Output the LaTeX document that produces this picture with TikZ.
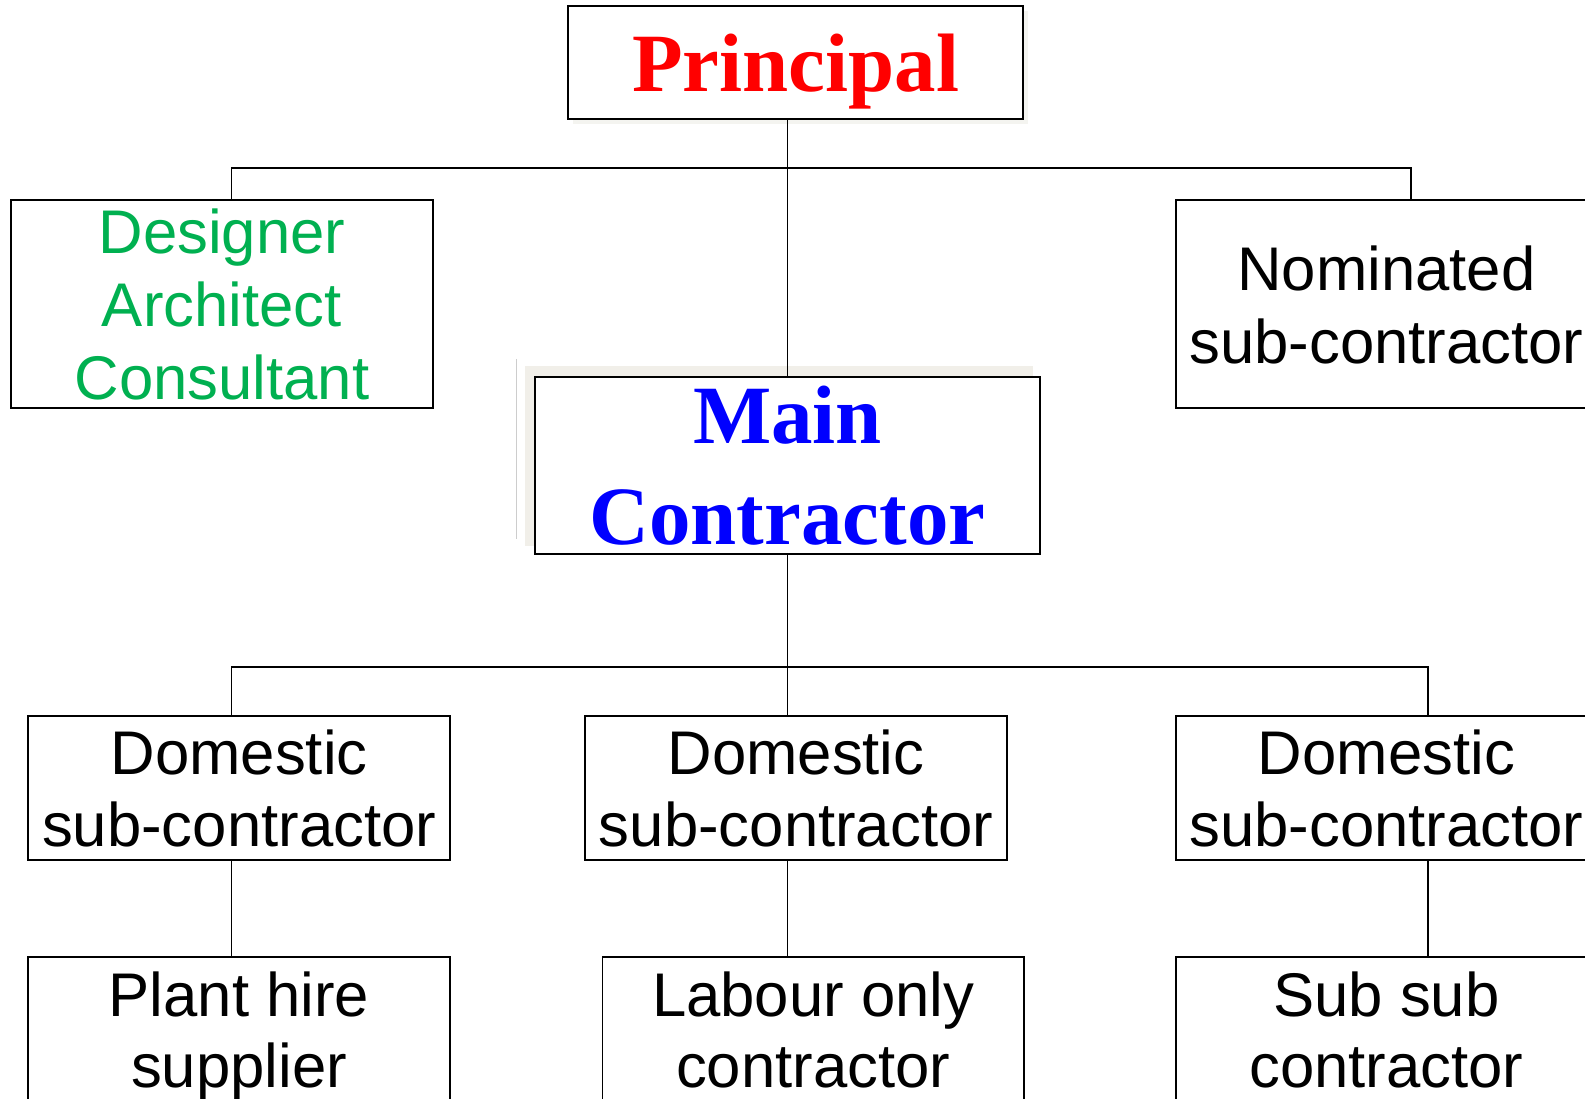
\documentclass[tikz,border=0pt]{standalone}
\usepackage{fontspec}
\setmainfont{Liberation Serif}
\setsansfont{Liberation Sans}
\definecolor{titlered}{RGB}{255,0,0}
\definecolor{titleblue}{RGB}{0,0,255}
\definecolor{rolegreen}{RGB}{0,176,80}
\definecolor{shadowbeige}{RGB}{241,239,233}
\definecolor{softshadow}{RGB}{244,244,240}
\definecolor{edgegray}{RGB}{205,205,205}
\begin{document}
\begin{tikzpicture}[x=1pt,y=-1pt,
  box/.style={draw, line width=1.8pt, fill=white, inner sep=0pt, align=center,
    minimum width=417pt, minimum height=143pt, text depth=0pt,
    font=\sffamily\fontsize{61}{71}\selectfont},
  tallbox/.style={box, minimum height=206pt, font=\sffamily\fontsize{61}{72}\selectfont},
  headbox/.style={draw, line width=2pt, fill=white, inner sep=0pt, align=center,
    font=\bfseries\fontsize{82}{100}\selectfont},
  link/.style={line width=1.8pt}]
\useasboundingbox (0,0) rectangle (1568,1087);
\begin{scope}
\clip (0,0) rectangle (1568,1087);
\fill[white] (0,0) rectangle (1568,1087);

% soft shadows behind the two headline boxes
\fill[softshadow] (567,11) rectangle (1017,123);
\fill[shadowbeige] (519.5,362) rectangle (1021.6,540);
\draw[edgegray, line width=1pt] (511,355) -- (511,533);

% top level
\node[headbox, minimum width=450pt, minimum height=112pt, text depth=0pt, text=titlered] (principal) at (787,62) {Principal};

% consultants and nominated sub-contractor
\node[tallbox, text=rolegreen] (designer) at (219.5,301) {Designer\\Architect\\Consultant};
\node[tallbox] (nominated) at (1371.5,301) {Nominated\\sub-contractor};

% main contractor
\node[headbox, line width=1.8pt, minimum width=500pt, minimum height=175pt, text=titleblue] (main) at (779,460.5) {Main\\Contractor};

% domestic sub-contractors
\node[box] (dom1) at (236.5,779.5) {Domestic\\sub-contractor};
\node[box] (dom2) at (787.5,779.5) {Domestic\\sub-contractor};
\node[box] (dom3) at (1371.5,779.5) {Domestic\\sub-contractor};

% third tier
\node[box] (bot1) at (236.5,1018.5) {Plant hire\\supplier};
\node[box] (bot2) at (804.5,1018.5) {Labour only\\contractor};
\node[box] (bot3) at (1371.5,1018.5) {Sub sub\\contractor};

% bus lines
\coordinate (bus1) at (779,166);
\coordinate (bus2) at (779,660);

% connectors
\draw[link] (main.north |- principal.south) -- (main.north);
\draw[link] ([xshift=9.5pt]designer.north) |- (bus1) -| ([xshift=24.5pt]nominated.north);
\draw[link] (main.south) -- (main.south |- bus2);
\draw[link] ([xshift=-7.5pt]dom1.north) |- (bus2) -| ([xshift=41.5pt]dom3.north);
\draw[link] ([xshift=-8.5pt]dom2.north) -- ([xshift=-8.5pt]dom2.north |- bus2);
\draw[link] ([xshift=-7.5pt]dom1.south) -- ([xshift=-7.5pt]bot1.north);
\draw[link] ([xshift=-8.5pt]dom2.south) -- ([xshift=-8.5pt]dom2.south |- bot2.north);
\draw[link] ([xshift=41.5pt]dom3.south) -- ([xshift=41.5pt]bot3.north);
\end{scope}
\end{tikzpicture}
\end{document}
